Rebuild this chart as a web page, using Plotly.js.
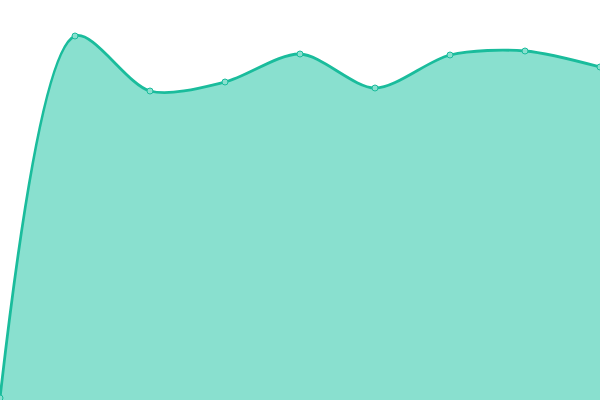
<!DOCTYPE html>
<html><head><meta charset="utf-8">
<script src="https://cdn.plot.ly/plotly-3.0.1.min.js"></script>
<style>html,body{margin:0;padding:0;background:#fff}#chart{width:600px;height:400px}</style>
</head><body><div id="chart"></div>
<script>
const xValues = [0, 1, 2, 3, 4, 5, 6, 7, 8];
const yValues = [0.5, 91, 77.25, 79.5, 86.5, 78, 86.25, 87.25, 83.25];

Plotly.newPlot('chart', [{
  x: xValues,
  y: yValues,
  type: 'scatter',
  mode: 'lines+markers',
  fill: 'tozeroy',
  fillcolor: '#89e0cf',
  line: {shape: 'spline', smoothing: 0.85, color: '#1abc9c', width: 2.8},
  marker: {size: 6, color: '#89e0cf', line: {color: '#1abc9c', width: 1}},
  hoverinfo: 'none'
}], {
  width: 600, height: 400,
  margin: {l: 0, r: 0, t: 0, b: 0},
  paper_bgcolor: '#fff', plot_bgcolor: '#fff',
  showlegend: false,
  xaxis: {range: [0, 8], visible: false, fixedrange: true},
  yaxis: {range: [0, 100], visible: false, fixedrange: true}
}, {displayModeBar: false, staticPlot: true});
</script></body></html>
